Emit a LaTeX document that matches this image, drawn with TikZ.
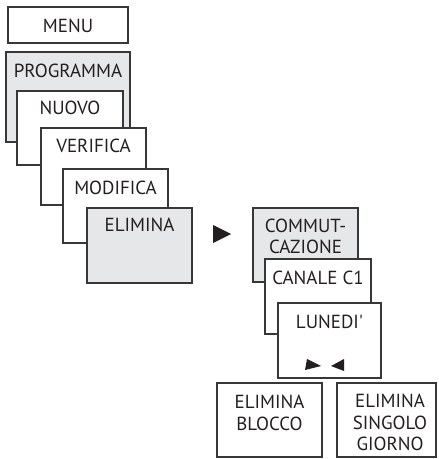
\documentclass[tikz,border=0pt]{standalone}
\usepackage{fontspec}
\setmainfont{PT Sans}
\definecolor{menugray}{RGB}{230,231,232}
\definecolor{menuline}{RGB}{55,55,55}
\definecolor{menutext}{RGB}{35,31,32}
\tikzset{every picture/.style={line width=0.8pt}}
\tikzset{
  graybox/.style={draw=menuline, fill=menugray},
  whitebox/.style={draw=menuline, fill=white},
  lbl/.style={anchor=north, inner sep=0pt, align=center, text=menutext,
    font=\fontsize{14.2}{16.1}\selectfont},
  tri/.style={fill=menutext, draw=none}
}

\begin{document}
\begin{tikzpicture}[x=0.75pt,y=0.75pt,yscale=-1,xscale=1]
	\useasboundingbox (0,0) rectangle (438,459);

	%Shape: Rectangle [menu]
	\draw [whitebox] (8,7) rectangle (128,43);
	%Shape: Rectangle [programma]
	\draw [graybox] (6,52) rectangle (130,142);
	%Shape: Rectangle [nuovo]
	\draw [whitebox] (17,91) rectangle (123,165);
	%Shape: Rectangle [verifica]
	\draw [whitebox] (41,128) rectangle (146,205);
	%Shape: Rectangle [modifica]
	\draw [whitebox] (63,169) rectangle (168,243);
	%Shape: Rectangle [elimina]
	\draw [graybox] (87,208) rectangle (192,283);

	%Shape: Triangle
	\fill [tri] (213,225) -- (213,243) -- (231,234) -- cycle;

	%Shape: Rectangle [commutazione]
	\draw [graybox] (253,208) rectangle (358,282);
	%Shape: Rectangle [canale]
	\draw [whitebox] (265,259) rectangle (371,334);
	%Shape: Rectangle [lunedi]
	\draw [whitebox] (278,303) rectangle (381,378);
	%Shape: Triangle
	\fill [tri] (307,359) -- (305,370) -- (321,366) -- cycle;
	%Shape: Triangle
	\fill [tri] (344,359) -- (344,371) -- (331,366) -- cycle;

	%Shape: Rectangle [blocco]
	\draw [whitebox] (217,383) rectangle (322,457);
	%Shape: Rectangle [giorno]
	\draw [whitebox] (337,383) rectangle (436,457);

	% Text Node
	\node [lbl] (menu) at (68,18.5) {MENU};
	% Text Node
	\node [lbl] (programma) at (68,63) {PROGRAMMA};
	% Text Node
	\node [lbl] (nuovo) at (70,100.5) {NUOVO};
	% Text Node
	\node [lbl] (verifica) at (93.5,138) {VERIFICA};
	% Text Node
	\node [lbl] (modifica) at (115.5,180) {MODIFICA};
	% Text Node
	\node [lbl] (elimina) at (139.5,218) {ELIMINA};
	% Text Node
	\node [lbl] (commutazione) at (305.5,218) {COMMUT-\\CAZIONE};
	% Text Node
	\node [lbl] (canale) at (318,270) {CANALE C1};
	% Text Node
	\node [lbl] (lunedi) at (329.5,315) {LUNEDI\textquotesingle};
	% Text Node
	\node [lbl] (blocco) at (269.5,395) {ELIMINA\\BLOCCO};
	% Text Node
	\node [lbl] (giorno) at (390,394) {ELIMINA\\SINGOLO\\GIORNO};

\end{tikzpicture}
\end{document}
